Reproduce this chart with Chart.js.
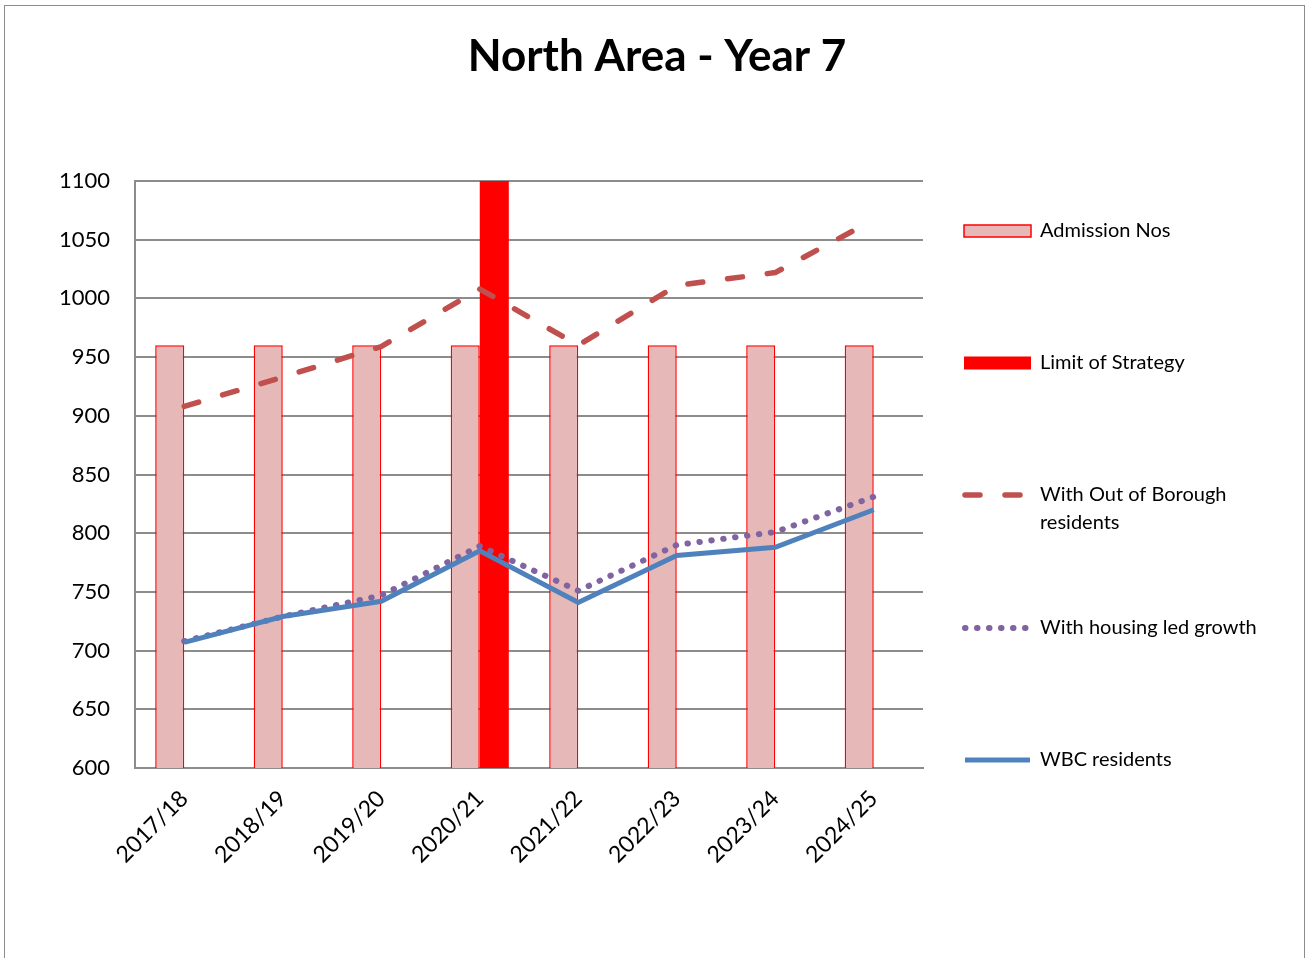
<!DOCTYPE html>
<html>
<head>
<meta charset="utf-8">
<title>North Area - Year 7</title>
<script src="https://cdn.jsdelivr.net/npm/chart.js@4.4.1/dist/chart.umd.min.js"></script>
<style>
    html, body { margin: 0; padding: 0; background: #fff; overflow: hidden; }
    #frame { position: absolute; left: 4px; top: 5px; width: 1301px; height: 990px; border: 1px solid #8c8c8c; box-sizing: border-box; }
    #wrap { position: absolute; left: 0; top: 0; width: 1309px; height: 958px; }
</style>
</head>
<body>
<div id="frame"></div>
<div id="wrap"><canvas id="chartCanvas" width="1309" height="958"></canvas></div>
<script>
// DATOS
const years = ["2017/18", "2018/19", "2019/20", "2020/21", "2021/22", "2022/23", "2023/24", "2024/25"];
const admissionNos = [960, 960, 960, 960, 960, 960, 960, 960];
const limitOfStrategy = [null, null, null, 1100, null, null, null, null];
const outOfBorough = [908, 933, 959, 1008, 960, 1011, 1022, 1067];
const housingGrowth = [708, 729, 747, 789, 751, 790, 801, 831];
const wbcResidents = [707, 729, 742, 785, 741, 781, 788, 820];
const yTicks = { min: 600, max: 1100, step: 50 };

const gridColor = "#8c8c8c";

// LEYENDA LATERAL Y TITULO
const sideLegend = {
    id: "sideLegend",
    afterDraw(chart) {
        const ctx = chart.ctx;
        const rows = [231, 363, 495, 628, 760];
        const x0 = 964, x1 = 1031, tx = 1040;
        ctx.save();
        ctx.font = "20px Lato";
        ctx.fillStyle = "#000";
        ctx.textBaseline = "middle";
        ctx.textAlign = "left";
        chart.data.datasets.forEach((ds, i) => {
            const y = rows[i];
            if (ds.type === "bar") {
                const h = i === 0 ? 12 : 13;
                ctx.fillStyle = ds.backgroundColor;
                ctx.fillRect(x0, y - h / 2, x1 - x0, h);
                if (ds.borderWidth) {
                    ctx.strokeStyle = ds.borderColor;
                    ctx.lineWidth = ds.borderWidth;
                    ctx.strokeRect(x0, y - h / 2, x1 - x0, h);
                }
            } else {
                ctx.beginPath();
                ctx.strokeStyle = ds.borderColor;
                ctx.lineWidth = ds.borderWidth;
                ctx.lineCap = ds.borderCapStyle || "butt";
                ctx.setLineDash(ds.borderDash || []);
                ctx.moveTo(x0 + 1, y);
                ctx.lineTo(x1 - 1, y);
                ctx.stroke();
                ctx.setLineDash([]);
            }
            // texto (con salto de línea si es muy largo)
            ctx.fillStyle = "#000";
            const words = ds.label.split(" ");
            const lines = [];
            let line = "";
            words.forEach(w => {
                const test = line ? line + " " + w : w;
                if (ctx.measureText(test).width > 250 && line) {
                    lines.push(line);
                    line = w;
                } else {
                    line = test;
                }
            });
            lines.push(line);
            lines.forEach((l, k) => ctx.fillText(l, tx, y + k * 28));
        });

        // titulo
        ctx.font = "bold 44px Lato";
        ctx.textAlign = "center";
        ctx.fillText("North Area - Year 7", 657, 57);
        ctx.restore();
    }
};

document.addEventListener("DOMContentLoaded", function () {
    const chartCanvas = document.getElementById("chartCanvas").getContext("2d");

    new Chart(chartCanvas, {
        data: {
            labels: years,
            datasets: [
                {
                    type: "bar",
                    label: "Admission Nos",
                    data: admissionNos,
                    backgroundColor: "#E6B9B8",
                    borderColor: "#FF0000",
                    borderWidth: 1.5,
                    order: 4
                },
                {
                    type: "bar",
                    label: "Limit of Strategy",
                    data: limitOfStrategy,
                    backgroundColor: "#FF0000",
                    borderWidth: 0,
                    order: 5
                },
                {
                    type: "line",
                    label: "With Out of Borough residents",
                    data: outOfBorough,
                    borderColor: "#C0504D",
                    borderWidth: 5.5,
                    borderDash: [15, 25],
                    borderCapStyle: "round",
                    pointRadius: 0,
                    order: 3
                },
                {
                    type: "line",
                    label: "With housing led growth",
                    data: housingGrowth,
                    borderColor: "#8064A2",
                    borderWidth: 6,
                    borderDash: [0.5, 11.5],
                    borderCapStyle: "round",
                    pointRadius: 0,
                    order: 2
                },
                {
                    type: "line",
                    label: "WBC residents",
                    data: wbcResidents,
                    borderColor: "#4F81BD",
                    borderWidth: 5,
                    pointRadius: 0,
                    order: 1
                }
            ]
        },
        options: {
            responsive: false,
            animation: false,
            layout: { padding: { top: 181, left: 0, right: 386, bottom: 0 } },
            datasets: {
                bar: { categoryPercentage: 0.59, barPercentage: 1.0 }
            },
            plugins: {
                legend: { display: false },
                title: { display: false },
                tooltip: { enabled: false }
            },
            scales: {
                x: {
                    grid: { display: false },
                    border: { display: true, color: gridColor, width: 2 },
                    ticks: {
                        color: "#000",
                        font: { family: "Lato", size: 23 },
                        minRotation: 45,
                        maxRotation: 45,
                        padding: 9
                    },
                    afterFit(scale) { scale.height = 190; }
                },
                y: {
                    min: yTicks.min,
                    max: yTicks.max,
                    grid: { color: gridColor, lineWidth: 2, drawTicks: false },
                    border: { display: true, color: gridColor, width: 2 },
                    ticks: {
                        stepSize: yTicks.step,
                        color: "#000",
                        font: { family: "Lato", size: 22 },
                        padding: 25,
                        callback: value => String(value)
                    },
                    afterFit(scale) { scale.width = 135; }
                }
            }
        },
        plugins: [sideLegend]
    });
});
</script>
</body>
</html>
